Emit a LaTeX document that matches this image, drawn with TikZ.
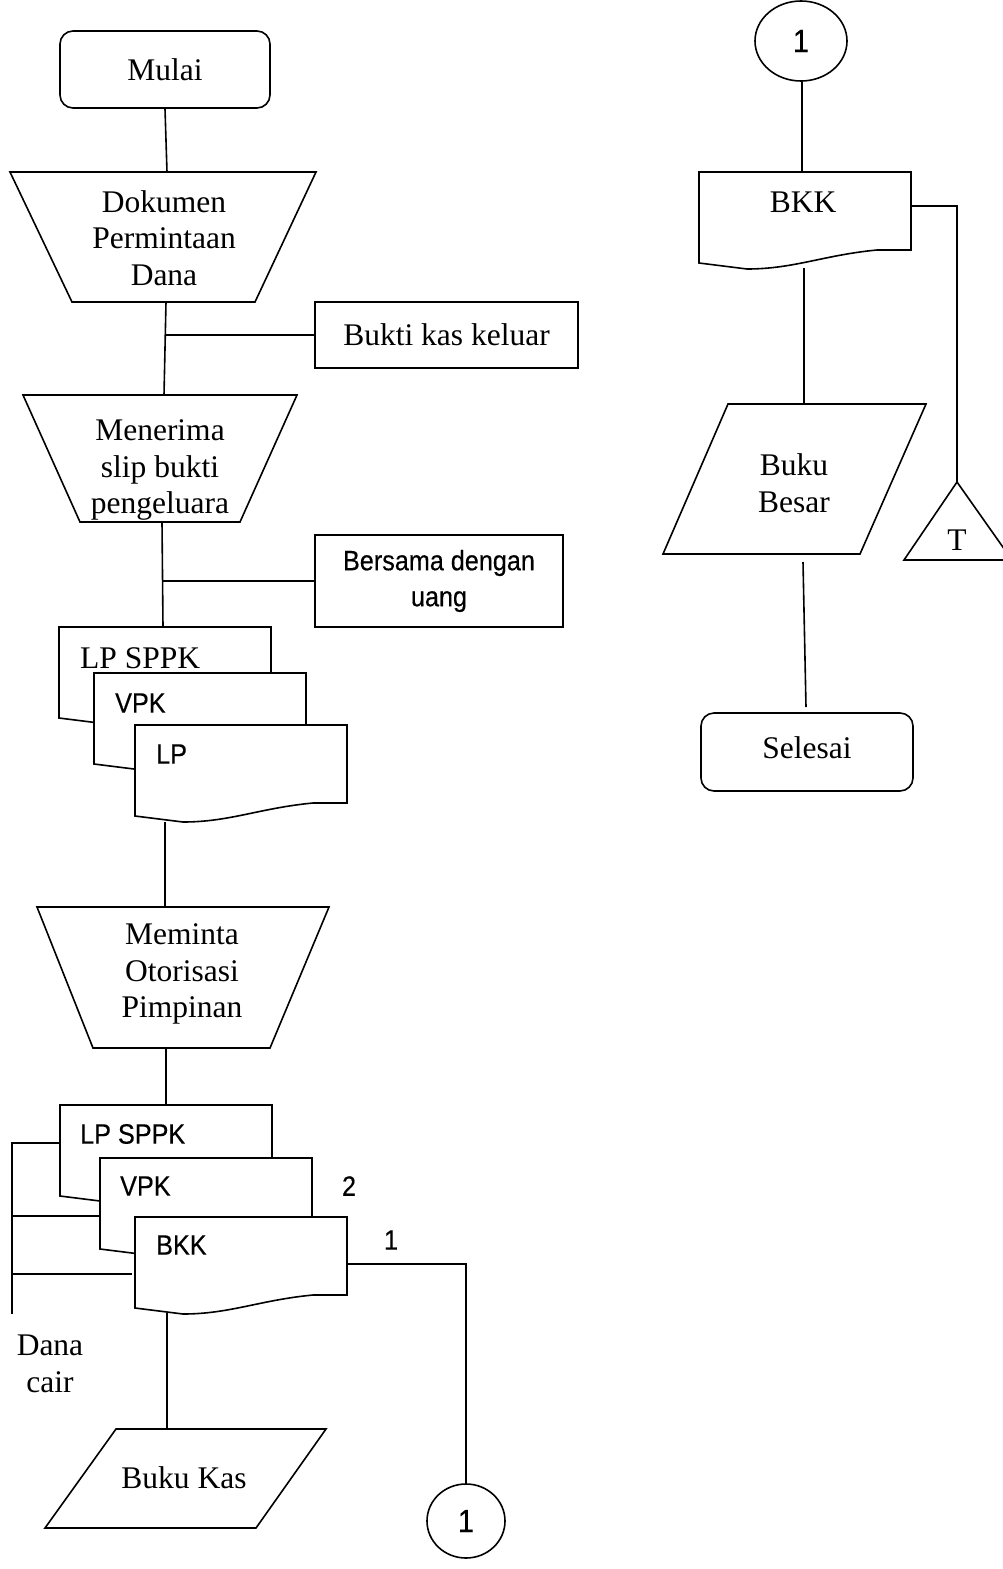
\documentclass[tikz,border=0pt]{standalone}
\usepackage{fontspec}
\setmainfont{Liberation Serif}
\newfontfamily\sansf[FakeStretch=0.9,FakeBold=0.4]{Liberation Sans}
\tikzset{
  ln/.style={line width=1.6pt},
  shp/.style={line width=1.6pt, fill=white, line join=miter},
  sertext/.style={font=\fontsize{31.5}{36.5}\selectfont, align=center, inner sep=0pt},
  santext/.style={font=\sansf\fontsize{28}{36}\selectfont, align=center, inner sep=0pt},
  bigsan/.style={font=\sansf\fontsize{32}{36}\selectfont, align=center, inner sep=0pt},
  rbox/.style={draw, line width=1.6pt, rounded corners=13pt, fill=white, inner sep=0pt},
  sbox/.style={draw, line width=1.6pt, fill=white, inner sep=0pt},
}
\newcommand\docsheet[2]{%
  \begin{scope}[shift={(#1,#2)}]
    \draw[shp] (0,0) -- (212,0) -- (212,78) -- (178,78)
      .. controls (125,83) and (95,97) .. (48,97) -- (0,91) -- cycle;
  \end{scope}}
\begin{document}
\begin{tikzpicture}[x=1pt,y=-1pt]
\useasboundingbox[fill=white] (0,0) rectangle (1003,1569);

% ---------------- left column ----------------
\node[rbox, minimum width=210pt, minimum height=77pt, sertext] (mulai) at (165,69.5) {Mulai};

\draw[shp] (10,172) -- (316,172) -- (255,302) -- (72,302) -- cycle;
\node[sertext] (dok) at (164,238) {Dokumen\\Permintaan\\Dana};
\coordinate (dokT) at (167,172);
\coordinate (dokB) at (166,302);

\node[sbox, minimum width=263pt, minimum height=66pt, sertext] (bukti) at (446.5,335) {Bukti kas keluar};

\draw[shp] (23,395) -- (297,395) -- (240,522) -- (80,522) -- cycle;
\node[sertext] (menerima) at (160,470) {Menerima\\slip bukti\\pengeluara};
\coordinate (menT) at (164,395);
\coordinate (menB) at (162,522);

\node[sbox, minimum width=248pt, minimum height=92pt, santext] (bersama) at (439,581) {Bersama dengan\\uang};

% document stack 1
\docsheet{59}{627}
\docsheet{94}{673}
\docsheet{135}{725}
\node[sertext, anchor=west] (s1a) at (80,658) {LP SPPK};
\node[santext, anchor=west] (s1b) at (115,703) {VPK};
\node[santext, anchor=west] (s1c) at (156,754) {LP};
\coordinate (st1T) at (163,627);
\coordinate (st1B) at (165,822);

\draw[shp] (37,907) -- (329,907) -- (270,1048) -- (93,1048) -- cycle;
\node[sertext] (meminta) at (182,974) {Meminta\\Otorisasi\\Pimpinan};
\coordinate (memT) at (165,907);
\coordinate (memB) at (166,1048);

% document stack 2
\docsheet{60}{1105}
\docsheet{100}{1158}
\docsheet{135}{1217}
\node[santext, anchor=west] (s2a) at (80,1134) {LP SPPK};
\node[santext, anchor=west] (s2b) at (120,1186) {VPK};
\node[santext, anchor=west] (s2c) at (156,1245) {BKK};
\coordinate (st2T) at (166,1105);
\coordinate (st2B) at (167,1313);
\coordinate (st2R) at (347,1264);
\node[santext] (two) at (349,1186) {2};
\node[santext] (one) at (391,1240) {1};

\draw[shp] (116,1429) -- (326,1429) -- (256,1528) -- (45,1528) -- cycle;
\node[sertext] (bukukas) at (184,1478) {Buku Kas};
\coordinate (bkT) at (167,1429);

\draw[shp] (466,1521) ellipse [x radius=39, y radius=37];
\node[bigsan] (c1b) at (466,1521) {1};
\coordinate (c1bT) at (466,1484);

% left bracket "Dana cair"
\coordinate (lb1) at (12,1143);
\coordinate (lb2) at (12,1216);
\coordinate (lb3) at (12,1274);
\coordinate (lbB) at (12,1314);
\node[sertext] (dana) at (50,1364) {Dana\\cair};

% ---------------- right column ----------------
\draw[shp] (801,41) ellipse [x radius=46, y radius=40];
\node[bigsan] (c1t) at (801,41) {1};
\coordinate (c1tB) at (802,81);

\docsheet{699}{172}
\node[sertext] (bkkr) at (803,202) {BKK};
\coordinate (bkkT) at (802,172);
\coordinate (bkkB) at (804,268);
\coordinate (bkkR) at (912,206);

\draw[shp] (728,404) -- (926,404) -- (860,554) -- (663,554) -- cycle;
\node[sertext] (besar) at (794,483) {Buku\\Besar};
\coordinate (besT) at (804,404);
\coordinate (besB) at (803,562);

\draw[shp] (957,482) -- (1012,560) -- (904,560) -- cycle;
\node[sertext] (tee) at (957,540) {T};
\coordinate (triT) at (957,482);

\node[rbox, minimum width=212pt, minimum height=78pt, sertext] (selesai) at (807,752) {\raisebox{8pt}{Selesai}};
\coordinate (selT) at (806,707);

% ---------------- connectors ----------------
\draw[ln] (mulai.south) -- (dokT);
\draw[ln] (dokB) -- (menT);
\draw[ln] (bukti.west) -- (bukti.west -| dokB);
\draw[ln] (menB) -- (st1T);
\draw[ln] (bersama.west) -- (bersama.west -| menB);
\draw[ln] (st1B) -- (memT);
\draw[ln] (memB) -- (st2T);
\draw[ln] (st2B) -- (bkT);
\draw[ln] (st2R) -| (c1bT);
\draw[ln] (lbB) -- (lb1) -- (60,1143);
\draw[ln] (lb2) -- (100,1216);
\draw[ln] (lb3) -- (132,1274);
\draw[ln] (c1tB) -- (bkkT);
\draw[ln] (bkkB) -- (besT);
\draw[ln] (bkkR) -| (triT);
\draw[ln] (besB) -- (selT);
\end{tikzpicture}
\end{document}
